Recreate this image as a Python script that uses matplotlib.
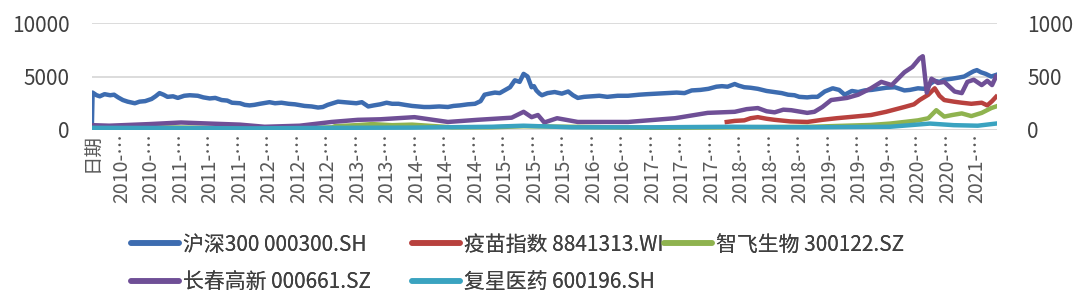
import matplotlib
matplotlib.use("Agg")
import matplotlib.pyplot as plt
from matplotlib.lines import Line2D

plt.rcParams['font.family'] = ['Noto Sans CJK SC', 'DejaVu Sans']

# x values are decimal years; the first blue point is the "日期" header row (value 0)
hs300_t = [2009.98, 2009.99, 2010.04, 2010.08, 2010.14, 2010.21, 2010.26, 2010.31, 2010.37,
           2010.43, 2010.52, 2010.58, 2010.65, 2010.73, 2010.78, 2010.83, 2010.88, 2010.93,
           2011.00, 2011.06, 2011.14, 2011.21, 2011.31, 2011.38, 2011.46, 2011.53, 2011.61,
           2011.68, 2011.74, 2011.84, 2011.90, 2011.96, 2012.02, 2012.09, 2012.21, 2012.28,
           2012.36, 2012.45, 2012.53, 2012.65, 2012.74, 2012.82, 2012.88, 2012.94, 2013.07,
           2013.15, 2013.22, 2013.30, 2013.37, 2013.45, 2013.52, 2013.60, 2013.68, 2013.75,
           2013.83, 2013.91, 2014.00, 2014.07, 2014.15, 2014.22, 2014.34, 2014.45, 2014.52,
           2014.60, 2014.70, 2014.79, 2014.86, 2014.91, 2014.97, 2015.04, 2015.10, 2015.16,
           2015.23, 2015.29, 2015.35, 2015.40, 2015.45, 2015.50, 2015.53, 2015.56, 2015.60,
           2015.63, 2015.70, 2015.79, 2015.88, 2015.96, 2016.02, 2016.08, 2016.16, 2016.25,
           2016.35, 2016.45, 2016.58, 2016.71, 2016.85, 2016.95, 2017.08, 2017.20, 2017.32,
           2017.42, 2017.51, 2017.62, 2017.72, 2017.82, 2017.89, 2017.96, 2018.05, 2018.10,
           2018.17, 2018.25, 2018.34, 2018.45, 2018.55, 2018.64, 2018.72, 2018.80, 2018.86,
           2018.96, 2019.02, 2019.09, 2019.18, 2019.28, 2019.36, 2019.43, 2019.52, 2019.60,
           2019.68, 2019.77, 2019.86, 2019.95, 2020.06, 2020.12, 2020.18, 2020.25, 2020.35,
           2020.43, 2020.50, 2020.56, 2020.62, 2020.68, 2020.78, 2020.86, 2020.93, 2021.00,
           2021.05, 2021.09, 2021.14, 2021.20, 2021.27, 2021.33]
hs300_v = [0, 3500, 3250, 3150, 3350, 3250, 3300, 3050, 2800,
           2650, 2500, 2650, 2700, 2900, 3150, 3450, 3300, 3100,
           3150, 3000, 3200, 3250, 3200, 3050, 2950, 3000, 2800,
           2750, 2550, 2500, 2350, 2300, 2350, 2450, 2600, 2500,
           2550, 2450, 2400, 2250, 2200, 2100, 2150, 2350, 2650,
           2600, 2550, 2500, 2600, 2200, 2300, 2400, 2550, 2450,
           2450, 2350, 2250, 2200, 2150, 2150, 2200, 2150, 2250,
           2300, 2400, 2450, 2700, 3300, 3400, 3500, 3450, 3700,
           4000, 4650, 4500, 5250, 5000, 4000, 4100, 3700, 3400,
           3250, 3450, 3550, 3400, 3600, 3250, 3000, 3100, 3150,
           3200, 3100, 3200, 3200, 3300, 3350, 3400, 3450, 3500,
           3450, 3700, 3750, 3850, 4050, 4100, 4050, 4300, 4150,
           4000, 3950, 3850, 3650, 3550, 3450, 3300, 3250, 3100,
           3050, 3100, 3100, 3600, 3900, 3750, 3300, 3650, 3550,
           3700, 3750, 3850, 3950, 4000, 3850, 3700, 3750, 3900,
           3850, 4300, 4600, 4500, 4700, 4800, 4900, 5000, 5300,
           5500, 5600, 5400, 5250, 5000, 5150]

vaccine_t = [2017.95, 2018.05, 2018.17, 2018.25, 2018.34, 2018.45, 2018.55, 2018.75,
             2018.96, 2019.15, 2019.33, 2019.55, 2019.76, 2019.95, 2020.18, 2020.30,
             2020.37, 2020.48, 2020.56, 2020.62, 2020.68, 2020.80, 2020.90, 2021.02,
             2021.15, 2021.22, 2021.28, 2021.33]
vaccine_v = [75, 85, 90, 110, 120, 105, 95, 80, 75, 95, 110, 125, 140, 170, 215, 240,
             280, 330, 390, 320, 280, 265, 255, 245, 255, 230, 270, 310]

zhifei_t = [2010.72, 2011.5, 2012.5, 2013.0, 2013.03, 2013.3, 2013.5, 2013.75, 2014.0, 2014.5,
            2015.0, 2015.4, 2016.0, 2017.0, 2018.0, 2019.0, 2019.76, 2020.0, 2020.18, 2020.35,
            2020.48, 2020.58, 2020.68, 2020.78, 2020.90, 2021.02, 2021.15, 2021.27, 2021.33]
zhifei_v = [25, 20, 15, 25, 35, 45, 55, 45, 50, 25,
            25, 35, 30, 20, 25, 30, 47, 60, 75, 90,
            110, 185, 125, 140, 155, 130, 160, 205, 220]

changchun_t = [2009.99, 2010.2, 2010.7, 2011.1, 2011.46, 2011.84, 2012.15, 2012.59, 2012.99,
               2013.32, 2013.6, 2014.03, 2014.45, 2014.82, 2015.25, 2015.40, 2015.50, 2015.58,
               2015.66, 2015.82, 2016.08, 2016.71, 2017.30, 2017.71, 2018.05, 2018.20, 2018.34,
               2018.45, 2018.55, 2018.66, 2018.76, 2018.96, 2019.05, 2019.15, 2019.26, 2019.46,
               2019.60, 2019.76, 2019.89, 2020.02, 2020.10, 2020.18, 2020.28, 2020.37, 2020.41,
               2020.46, 2020.52, 2020.60, 2020.68, 2020.81, 2020.90, 2020.97, 2021.05, 2021.15,
               2021.22, 2021.28, 2021.33]
changchun_v = [45, 40, 55, 70, 60, 50, 30, 40, 75,
               95, 100, 120, 75, 95, 115, 170, 120, 140,
               70, 110, 75, 75, 110, 160, 170, 195, 205,
               175, 165, 190, 185, 160, 170, 215, 280, 300,
               330, 390, 450, 420, 480, 540, 590, 670, 690,
               350, 480, 440, 450, 360, 345, 450, 470, 420,
               460, 420, 500]

fosun_t = [2009.99, 2011.0, 2012.0, 2013.0, 2014.0, 2015.0, 2015.4, 2016.0, 2017.0, 2018.0,
           2019.0, 2020.0, 2020.5, 2020.8, 2021.1, 2021.33]
fosun_v = [20, 18, 15, 20, 22, 30, 40, 25, 25, 30, 25, 30, 60, 45, 40, 60]

tick_labels = ["日期", "2010-…", "2010-…", "2011-…", "2011-…", "2011-…", "2012-…", "2012-…",
               "2012-…", "2013-…", "2013-…", "2014-…", "2014-…", "2014-…", "2015-…", "2015-…",
               "2015-…", "2016-…", "2016-…", "2017-…", "2017-…", "2017-…", "2018-…", "2018-…",
               "2018-…", "2019-…", "2019-…", "2019-…", "2020-…", "2020-…", "2021-…"]

names = ["沪深300 000300.SH", "疫苗指数 8841313.WI", "智飞生物 300122.SZ",
         "长春高新 000661.SZ", "复星医药 600196.SH"]
colors = ["#3d6cb0", "#b8413e", "#8fb34f", "#6f4f96", "#3aa3c0"]

fig = plt.figure(figsize=(10.8, 3.08), dpi=100)
ax = fig.add_axes([0.085, 0.578, 0.838, 0.347])
ax2 = ax.twinx()

lw = 3.2
ax.plot(hs300_t, hs300_v, color=colors[0], lw=lw, solid_joinstyle='round')
ax2.plot(vaccine_t, vaccine_v, color=colors[1], lw=lw, solid_joinstyle='round')
ax2.plot(zhifei_t, zhifei_v, color=colors[2], lw=lw, solid_joinstyle='round')
ax2.plot(changchun_t, changchun_v, color=colors[3], lw=lw, solid_joinstyle='round')
ax2.plot(fosun_t, fosun_v, color=colors[4], lw=lw, solid_joinstyle='round')

ax.set_ylim(0, 10000)
ax2.set_ylim(0, 1000)
ax.set_yticks([0, 5000, 10000])
ax2.set_yticks([0, 500, 1000])

tick_start = 2009.98
tick_step = 1 / 2.7
ax.set_xlim(tick_start, 2021.34)
ax.set_xticks([tick_start + i * tick_step for i in range(len(tick_labels))])
ax.set_xticklabels(tick_labels, rotation=90)

ax.grid(axis='y', color="#d9d9d9", lw=1.3)
ax.set_axisbelow(True)
for a in (ax, ax2):
    for s in a.spines.values():
        s.set_visible(False)
    a.tick_params(length=0, labelsize=15, labelcolor="#404040")
ax.tick_params(axis='x', labelsize=14, labelcolor="#595959", pad=2)
ax.tick_params(axis='y', pad=16)
ax2.tick_params(axis='y', pad=22)
ax.axhline(0, color="#d9d9d9", lw=1.3, zorder=0)

# legend laid out column by column, as in the reference
handles = [Line2D([], [], color=c, lw=4, solid_capstyle='round') for c in colors]
columns = [([0, 3], 0.112), ([1, 4], 0.372), ([2], 0.605)]
for idx, x0 in columns:
    leg = fig.legend([handles[i] for i in idx], [names[i] for i in idx],
                     loc='upper left', bbox_to_anchor=(x0, 0.275), frameon=False,
                     fontsize=15, handlelength=2.3, handletextpad=0.2,
                     labelspacing=0.75, borderpad=0, labelcolor="#404040")
    fig.add_artist(leg)

fig.savefig("out.png", dpi=100)
